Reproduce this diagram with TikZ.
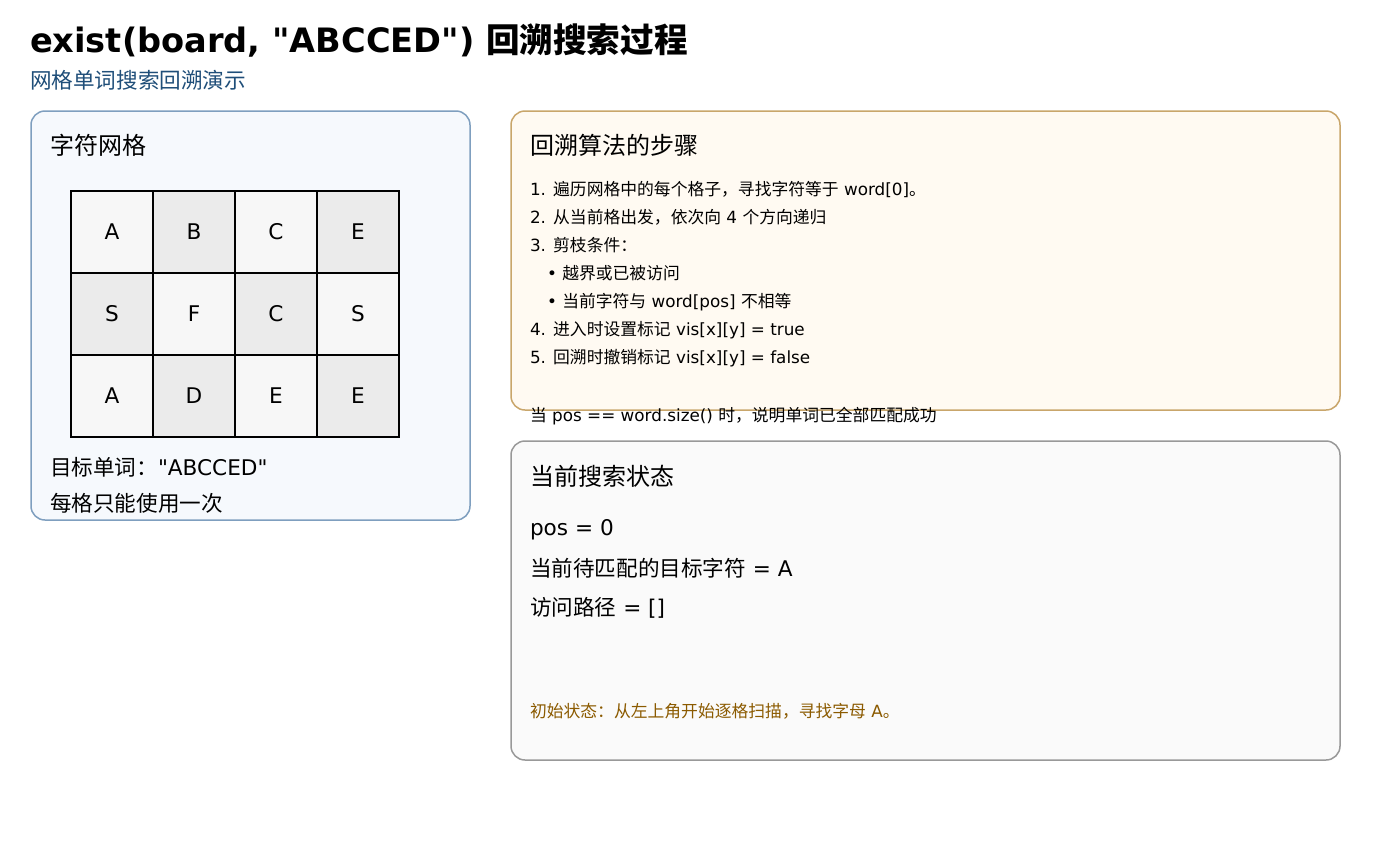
\documentclass[tikz,border=0pt]{standalone}
\usepackage{fontspec}
\setmainfont{DejaVu Sans}[Ligatures=TeXOff]
\newfontfamily\cjk{Noto Sans CJK SC}
\newcommand\zh[1]{{\cjk #1}}
\definecolor{subblue}{HTML}{1F4E79}
\definecolor{lpfill}{HTML}{F6F9FD}
\definecolor{lpdraw}{HTML}{7F9FBF}
\definecolor{tpfill}{HTML}{FFFAF2}
\definecolor{tpdraw}{HTML}{C9A66B}
\definecolor{bpfill}{HTML}{FAFAFA}
\definecolor{bpdraw}{HTML}{999999}
\definecolor{cellA}{HTML}{F7F7F7}
\definecolor{cellB}{HTML}{EBEBEB}
\definecolor{notebrown}{HTML}{8B5A00}
\newcommand\fs[1]{\fontsize{#1}{#1}\selectfont}
\begin{document}
\begin{tikzpicture}[x=1pt,y=-1pt,
  txt/.style={anchor=base west, inner sep=0pt, outer sep=0pt},
  panel/.style={rounded corners=14pt, line width=1.5pt},
  cellbox/.style={draw=black, line width=2pt, minimum width=82pt, minimum height=82pt, inner sep=0pt, font=\fs{21.6}}]
\useasboundingbox (0,0) rectangle (1380,860);
\fill[white] (0,0) rectangle (1380,860);

% title
\node[txt, font=\fs{33.6}\bfseries] (title) at (30,52) {exist(board, "ABCCED") \zh{回溯搜索过程}};
\node[txt, font=\fs{21.6}, text=subblue] (subtitle) at (30,88) {\zh{网格单词搜索回溯演示}};

% panels
\draw[panel, fill=lpfill, draw=lpdraw] (31,111) rectangle (470,520);
\draw[panel, fill=tpfill, draw=tpdraw] (511,111) rectangle (1340,410);
\draw[panel, fill=bpfill, draw=bpdraw] (511,441) rectangle (1340,760);

% left panel
\node[txt, font=\fs{24}] (lptitle) at (50,154) {\zh{字符网格}};
\foreach \r/\row in {0/{A,B,C,E},1/{S,F,C,S},2/{A,D,E,E}}{
  \foreach \ch [count=\c from 0] in \row {
    \pgfmathtruncatemacro\cellpar{mod(\r+\c,2)}
    \ifnum\cellpar=0 \def\cf{cellA}\else\def\cf{cellB}\fi
    \node[cellbox, fill=\cf] (cell-\r-\c) at ({112+82*\c},{232+82*\r}) {\raisebox{-2pt}{\ch}};
  }
}
\node[txt, font=\fs{21.6}] (target) at (50,475) {\zh{目标单词：}"ABCCED"};
\node[txt, font=\fs{21.6}] (rule) at (50,511) {\zh{每格只能使用一次}};

% top right panel
\node[txt, font=\fs{24}] (tptitle) at (530,154) {\zh{回溯算法的步骤}};
\begin{scope}[every node/.style={txt, font=\fs{16.8}}]
\node (s1) at (530,195) {1. \zh{遍历网格中的每个格子，寻找字符等于} word[0]\zh{。}};
\node (s2) at (530,223) {2. \zh{从当前格出发，依次向} 4 \zh{个方向递归}};
\node (s3) at (530,251) {3. \zh{剪枝条件：}};
\node (s3a) at (547,279) {• \zh{越界或已被访问}};
\node (s3b) at (547,307) {• \zh{当前字符与} word[pos] \zh{不相等}};
\node (s4) at (530,335) {4. \zh{进入时设置标记} vis[x][y] = true};
\node (s5) at (530,363) {5. \zh{回溯时撤销标记} vis[x][y] = false};
\node (s6) at (530,421) {\zh{当} pos == word.size() \zh{时，说明单词已全部匹配成功}};
\end{scope}

% bottom right panel
\node[txt, font=\fs{24}] (bptitle) at (530,485) {\zh{当前搜索状态}};
\node[txt, font=\fs{21.6}] (pos) at (530,535) {pos = 0};
\node[txt, font=\fs{21.6}] (cur) at (530,576) {\zh{当前待匹配的目标字符} = A};
\node[txt, font=\fs{21.6}] (path) at (530,615) {\zh{访问路径} = []};
\node[txt, font=\fs{16.8}, text=notebrown] (note) at (530,717) {\zh{初始状态：从左上角开始逐格扫描，寻找字母} A\zh{。}};
\end{tikzpicture}
\end{document}
